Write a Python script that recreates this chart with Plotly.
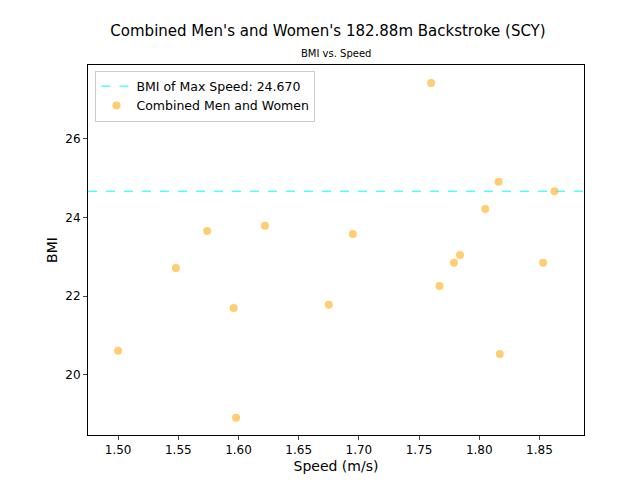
import plotly.graph_objects as go

speed = [1.760, 1.8625, 1.816, 1.805, 1.784, 1.779, 1.767, 1.853, 1.817,
         1.695, 1.675, 1.622, 1.574, 1.548, 1.596, 1.598, 1.500]
bmi = [27.42, 24.67, 24.91, 24.22, 23.05, 22.85, 22.26, 22.85, 20.53,
       23.58, 21.78, 23.79, 23.66, 22.72, 21.70, 18.91, 20.61]
max_bmi = 24.670

fig = go.Figure()
fig.add_trace(go.Scatter(x=[1.475, 1.887], y=[max_bmi, max_bmi], mode="lines",
                         line=dict(color="cyan", width=1, dash="dash"),
                         name="BMI of Max Speed: 24.670"))
fig.add_trace(go.Scatter(x=speed, y=bmi, mode="markers",
                         marker=dict(color="orange", opacity=0.55, size=8),
                         name="Combined Men and Women"))

fig.update_layout(
    width=640, height=480, plot_bgcolor="white", paper_bgcolor="white",
    margin=dict(l=80, r=64, t=57, b=53, autoexpand=False),
    font=dict(family="DejaVu Sans", size=12, color="black"),
    title=dict(text="Combined Men's and Women's 182.88m Backstroke (SCY)",
               x=0.5, y=0.963, xanchor="center", font=dict(size=15, color="black")),
    showlegend=True,
    legend=dict(x=0.015, y=0.985, xanchor="left", yanchor="top",
                bordercolor="#cccccc", borderwidth=1, font=dict(size=12.5)),
    annotations=[dict(text="BMI vs. Speed", x=0.5, y=1.01, xref="paper", yref="paper",
                      xanchor="center", yanchor="bottom", showarrow=False,
                      font=dict(size=10))],
)
axis = dict(showline=True, linecolor="black", mirror=True, showgrid=False,
            ticks="outside", ticklen=4, zeroline=False, automargin=False)
fig.update_xaxes(range=[1.475, 1.887], dtick=0.05, tickformat=".2f",
                 title=dict(text="Speed (m/s)", standoff=4), **axis)
fig.update_yaxes(range=[18.47, 27.88], dtick=2, title=dict(text="BMI", standoff=4), **axis)

fig.write_html("out.html")
